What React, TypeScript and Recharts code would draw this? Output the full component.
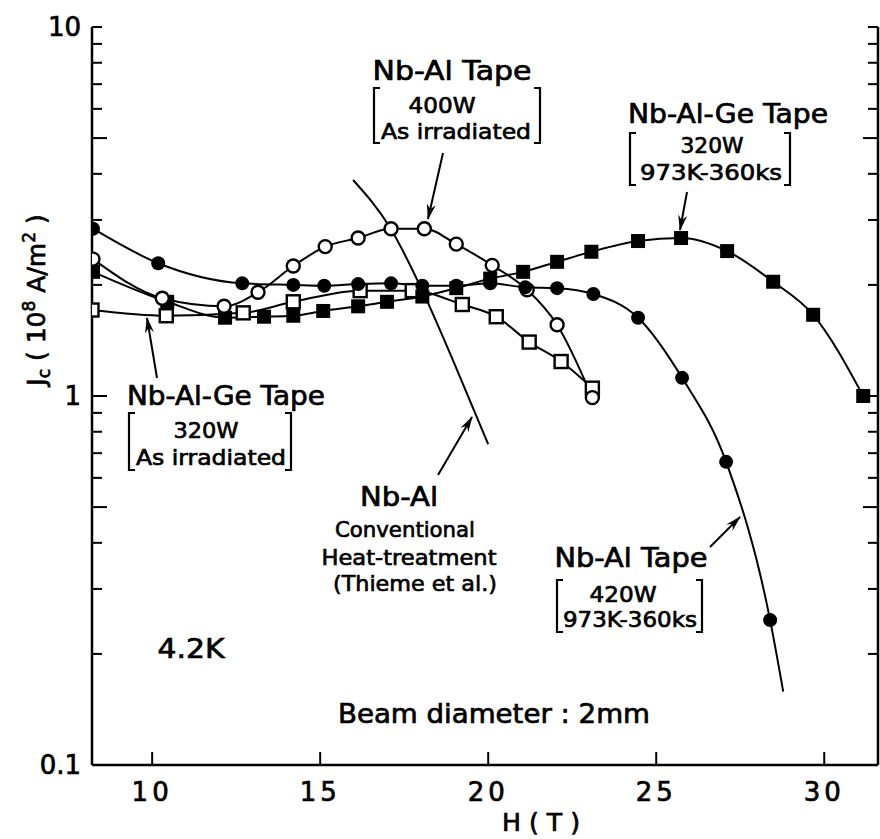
import { LineChart, Line, XAxis, YAxis } from 'recharts'

// H (T) vs Jc (10^8 A/m^2)

// Nb-Al tape, 420 W, 973K-360ks (filled circles); last point is the curve tail, no marker
const nbAl420H = [8.24, 10.18, 12.68, 14.2, 15.12, 16.13, 17.11, 18.04, 19.05, 20.06, 21.1, 22.05, 23.13, 24.46, 25.77, 27.08, 28.39, 28.78]
const nbAl420Jc = [2.84, 2.29, 2.02, 2.0, 1.99, 2.01, 2.02, 1.99, 1.99, 2.02, 1.97, 1.96, 1.89, 1.63, 1.12, 0.663, 0.247, 0.158]

// Nb-Al tape, 400 W, as irradiated (open circles)
const nbAl400H = [8.24, 10.3, 12.14, 13.15, 14.2, 15.15, 16.13, 17.11, 18.1, 19.05, 20.12, 21.16, 22.05, 23.1]
const nbAl400Jc = [2.35, 1.84, 1.75, 1.91, 2.25, 2.54, 2.68, 2.84, 2.84, 2.58, 2.26, 1.94, 1.56, 0.99]

// Nb-Al-Ge tape, 320 W, 973K-360ks (filled squares)
const nbAlGeHtH = [8.24, 10.45, 12.17, 13.33, 14.2, 15.09, 16.13, 16.99, 18.04, 19.05, 20.06, 21.04, 22.05, 23.07, 24.46, 25.74, 27.11, 28.48, 29.67, 31.16]
const nbAlGeHtJc = [2.17, 1.8, 1.63, 1.64, 1.65, 1.7, 1.75, 1.8, 1.86, 1.96, 2.08, 2.17, 2.31, 2.46, 2.63, 2.68, 2.47, 2.04, 1.66, 1.0]

// Nb-Al-Ge tape, 320 W, as irradiated (open squares)
const nbAlGeIrrH = [8.21, 10.42, 12.71, 14.2, 16.19, 17.74, 19.23, 20.24, 21.22, 22.17, 23.1]
const nbAlGeIrrJc = [1.71, 1.65, 1.68, 1.8, 1.93, 1.93, 1.77, 1.64, 1.4, 1.24, 1.05]

// Nb-Al conventional heat treatment (Thieme et al.), plain curve
const convH = [15.98, 17.1, 18.04, 19.0, 20.0]
const convJc = [3.85, 2.84, 1.93, 1.22, 0.74]

const xTicks = [10, 15, 20, 25, 30]
const yTicks = [0.1, 0.2, 0.3, 0.4, 0.5, 0.6, 0.7, 0.8, 0.9, 1, 2, 3, 4, 5, 6, 7, 8, 9, 10]
const yLabels: Record<string, string> = { '0.1': '0.1', '1': '1', '10': '10' }

const toPoints = (h: number[], jc: number[]) => h.map((x, i) => ({ h: x, jc: jc[i] }))

const FONT = '"DejaVu Sans", sans-serif'
const INK = '#000'
// slight outline to thicken the glyphs like the printed figure
const heavy = { stroke: INK, strokeWidth: 0.7 }

const tickLen = (v: number) => (v === 0.5 || v === 5 || v === 1 ? 15 : 10)

const LeftTick = ({ x, y, payload }: any) => {
  const v = payload.value
  const label = yLabels[String(v)]
  return (
    <g>
      <line x1={x} y1={y} x2={x + tickLen(v)} y2={y} stroke={INK} strokeWidth={2} />
      {label && (
        <text x={x - 11} y={y + 9} textAnchor="end" fontFamily={FONT} fontSize={26} fill={INK} {...heavy}>
          {label}
        </text>
      )}
    </g>
  )
}

const RightTick = ({ x, y, payload }: any) => (
  <line x1={x} y1={y} x2={x - tickLen(payload.value)} y2={y} stroke={INK} strokeWidth={2} />
)

const BottomTick = ({ x, y, payload }: any) => (
  <g>
    <line x1={x} y1={y} x2={x} y2={y - 13} stroke={INK} strokeWidth={2} />
    <text x={x} y={y + 36} textAnchor="middle" fontFamily={FONT} fontSize={26} letterSpacing={4} fill={INK} {...heavy}>
      {payload.value}
    </text>
  </g>
)

const TopTick = ({ x, y }: any) => <line x1={x} y1={y} x2={x} y2={y + 10} stroke={INK} strokeWidth={2} />

const dotFilledCircle = (last: number) => (p: any) =>
  p.index >= last ? <g key={`fc-${p.index}`} /> : <circle key={`fc-${p.index}`} cx={p.cx} cy={p.cy} r={7} fill={INK} />

const dotOpenCircle = (p: any) => (
  <circle key={`oc-${p.index}`} cx={p.cx} cy={p.cy} r={6.5} fill="#fff" stroke={INK} strokeWidth={2.4} />
)

const dotFilledSquare = (p: any) => (
  <rect key={`fs-${p.index}`} x={p.cx - 7} y={p.cy - 7} width={14} height={14} fill={INK} />
)

const dotOpenSquare = (p: any) => (
  <rect key={`os-${p.index}`} x={p.cx - 6.5} y={p.cy - 6.5} width={13} height={13} fill="#fff" stroke={INK} strokeWidth={2.4} />
)

const Txt = ({ x, y, w, size = 22, children }: any) => (
  <text x={x} y={y} textAnchor="middle" fontFamily={FONT} fontSize={size} textLength={w} lengthAdjust="spacingAndGlyphs" fill={INK} {...heavy}>
    {children}
  </text>
)

const bracket = (x1: number, x2: number, y1: number, y2: number) =>
  `M${x1 + 6},${y1} L${x1},${y1} L${x1},${y2} L${x1 + 6},${y2} M${x2 - 6},${y1} L${x2},${y1} L${x2},${y2} L${x2 - 6},${y2}`

const arrows = [
  [443, 153, 428, 219],
  [687, 192, 680, 230],
  [157, 378, 147, 318],
  [438, 475, 472, 417],
  [710, 547, 740, 517],
]

function Annotations() {
  return (
    <svg width={880} height={839} style={{ position: 'absolute', left: 0, top: 0, pointerEvents: 'none' }}>
      <defs>
        <marker id="ah" markerWidth={16} markerHeight={10} refX={15} refY={5} orient="auto" markerUnits="userSpaceOnUse">
          <path d="M0,0.5 L16,5 L0,9.5 L5,5 Z" fill={INK} />
        </marker>
      </defs>
      {arrows.map(([x1, y1, x2, y2], i) => (
        <line key={i} x1={x1} y1={y1} x2={x2} y2={y2} stroke={INK} strokeWidth={2} markerEnd="url(#ah)" />
      ))}
      <g fill="none" stroke={INK} strokeWidth={2.2}>
        <path d={bracket(374, 540, 88, 143)} />
        <path d={bracket(630, 790, 133, 185)} />
        <path d={bracket(129, 291, 413, 470)} />
        <path d={bracket(557, 702, 580, 632)} />
      </g>

      <Txt x={452} y={80} w={159} size={26}>Nb-Al Tape</Txt>
      <Txt x={442} y={113} w={67}>400W</Txt>
      <Txt x={456} y={139} w={150}>As irradiated</Txt>

      <Txt x={728} y={123} w={200} size={26}>Nb-Al-Ge Tape</Txt>
      <Txt x={712} y={153} w={63}>320W</Txt>
      <Txt x={711} y={180} w={142}>973K-360ks</Txt>

      <Txt x={226} y={405} w={198} size={26}>Nb-Al-Ge Tape</Txt>
      <Txt x={206} y={438} w={65}>320W</Txt>
      <Txt x={211} y={465} w={150}>As irradiated</Txt>

      <Txt x={399} y={506} w={78} size={26}>Nb-Al</Txt>
      <Txt x={405} y={537} w={140}>Conventional</Txt>
      <Txt x={409} y={565} w={175}>Heat-treatment</Txt>
      <Txt x={415} y={591} w={164}>(Thieme et al.)</Txt>

      <Txt x={631} y={567} w={153} size={26}>Nb-Al Tape</Txt>
      <Txt x={623} y={602} w={67}>420W</Txt>
      <Txt x={630} y={627} w={134}>973K-360ks</Txt>

      <Txt x={191} y={658} w={67} size={27}>4.2K</Txt>
      <Txt x={494} y={723} w={312} size={26}>Beam diameter : 2mm</Txt>

      <Txt x={541} y={831} w={78} size={25}>H ( T )</Txt>
      <text x={45} y={300} transform="rotate(-90 45 300)" textAnchor="middle" fontFamily={FONT} fontSize={25} fill={INK} {...heavy}>
        J<tspan fontSize={17} dy={5}>c</tspan>
        <tspan dy={-5}> ( 10</tspan>
        <tspan fontSize={17} dy={-10}>8</tspan>
        <tspan dy={10}> A/m</tspan>
        <tspan fontSize={17} dy={-10}>2</tspan>
        <tspan dy={10}> )</tspan>
      </text>
    </svg>
  )
}

export default function App() {
  return (
    <div style={{ position: 'absolute', left: 0, top: 0, width: 880, height: 839, background: '#fff' }}>
      <LineChart width={880} height={839} margin={{ top: 27, right: 0, left: 0, bottom: 0 }}>
        <XAxis
          xAxisId="b"
          type="number"
          dataKey="h"
          domain={[8.21, 31.6]}
          allowDataOverflow
          ticks={xTicks}
          interval={0}
          height={74}
          tickSize={0}
          tickMargin={0}
          axisLine={{ stroke: INK, strokeWidth: 2.5 }}
          tick={<BottomTick />}
        />
        <XAxis
          xAxisId="t"
          orientation="top"
          type="number"
          dataKey="h"
          domain={[8.21, 31.6]}
          allowDataOverflow
          ticks={xTicks}
          interval={0}
          height={0}
          tickSize={0}
          tickMargin={0}
          axisLine={{ stroke: INK, strokeWidth: 2.5 }}
          tick={<TopTick />}
        />
        <YAxis
          yAxisId="l"
          scale="log"
          domain={[0.1, 10]}
          allowDataOverflow
          ticks={yTicks}
          interval={0}
          width={92}
          tickSize={0}
          tickMargin={0}
          axisLine={{ stroke: INK, strokeWidth: 2.5 }}
          tick={<LeftTick />}
        />
        <YAxis
          yAxisId="r"
          orientation="right"
          scale="log"
          domain={[0.1, 10]}
          allowDataOverflow
          ticks={yTicks}
          interval={0}
          width={2}
          tickSize={0}
          tickMargin={0}
          axisLine={{ stroke: INK, strokeWidth: 2.5 }}
          tick={<RightTick />}
        />
        <Line xAxisId="b" yAxisId="l" data={toPoints(convH, convJc)} dataKey="jc" type="monotone" stroke={INK} strokeWidth={2} dot={false} isAnimationActive={false} />
        <Line xAxisId="b" yAxisId="l" data={toPoints(nbAlGeIrrH, nbAlGeIrrJc)} dataKey="jc" type="monotone" stroke={INK} strokeWidth={2} dot={dotOpenSquare} isAnimationActive={false} />
        <Line xAxisId="b" yAxisId="l" data={toPoints(nbAlGeHtH, nbAlGeHtJc)} dataKey="jc" type="monotone" stroke={INK} strokeWidth={2} dot={dotFilledSquare} isAnimationActive={false} />
        <Line xAxisId="b" yAxisId="l" data={toPoints(nbAl400H, nbAl400Jc)} dataKey="jc" type="monotone" stroke={INK} strokeWidth={2} dot={dotOpenCircle} isAnimationActive={false} />
        <Line xAxisId="b" yAxisId="l" data={toPoints(nbAl420H, nbAl420Jc)} dataKey="jc" type="monotone" stroke={INK} strokeWidth={2} dot={dotFilledCircle(nbAl420H.length - 1)} isAnimationActive={false} />
      </LineChart>
      <Annotations />
    </div>
  )
}
